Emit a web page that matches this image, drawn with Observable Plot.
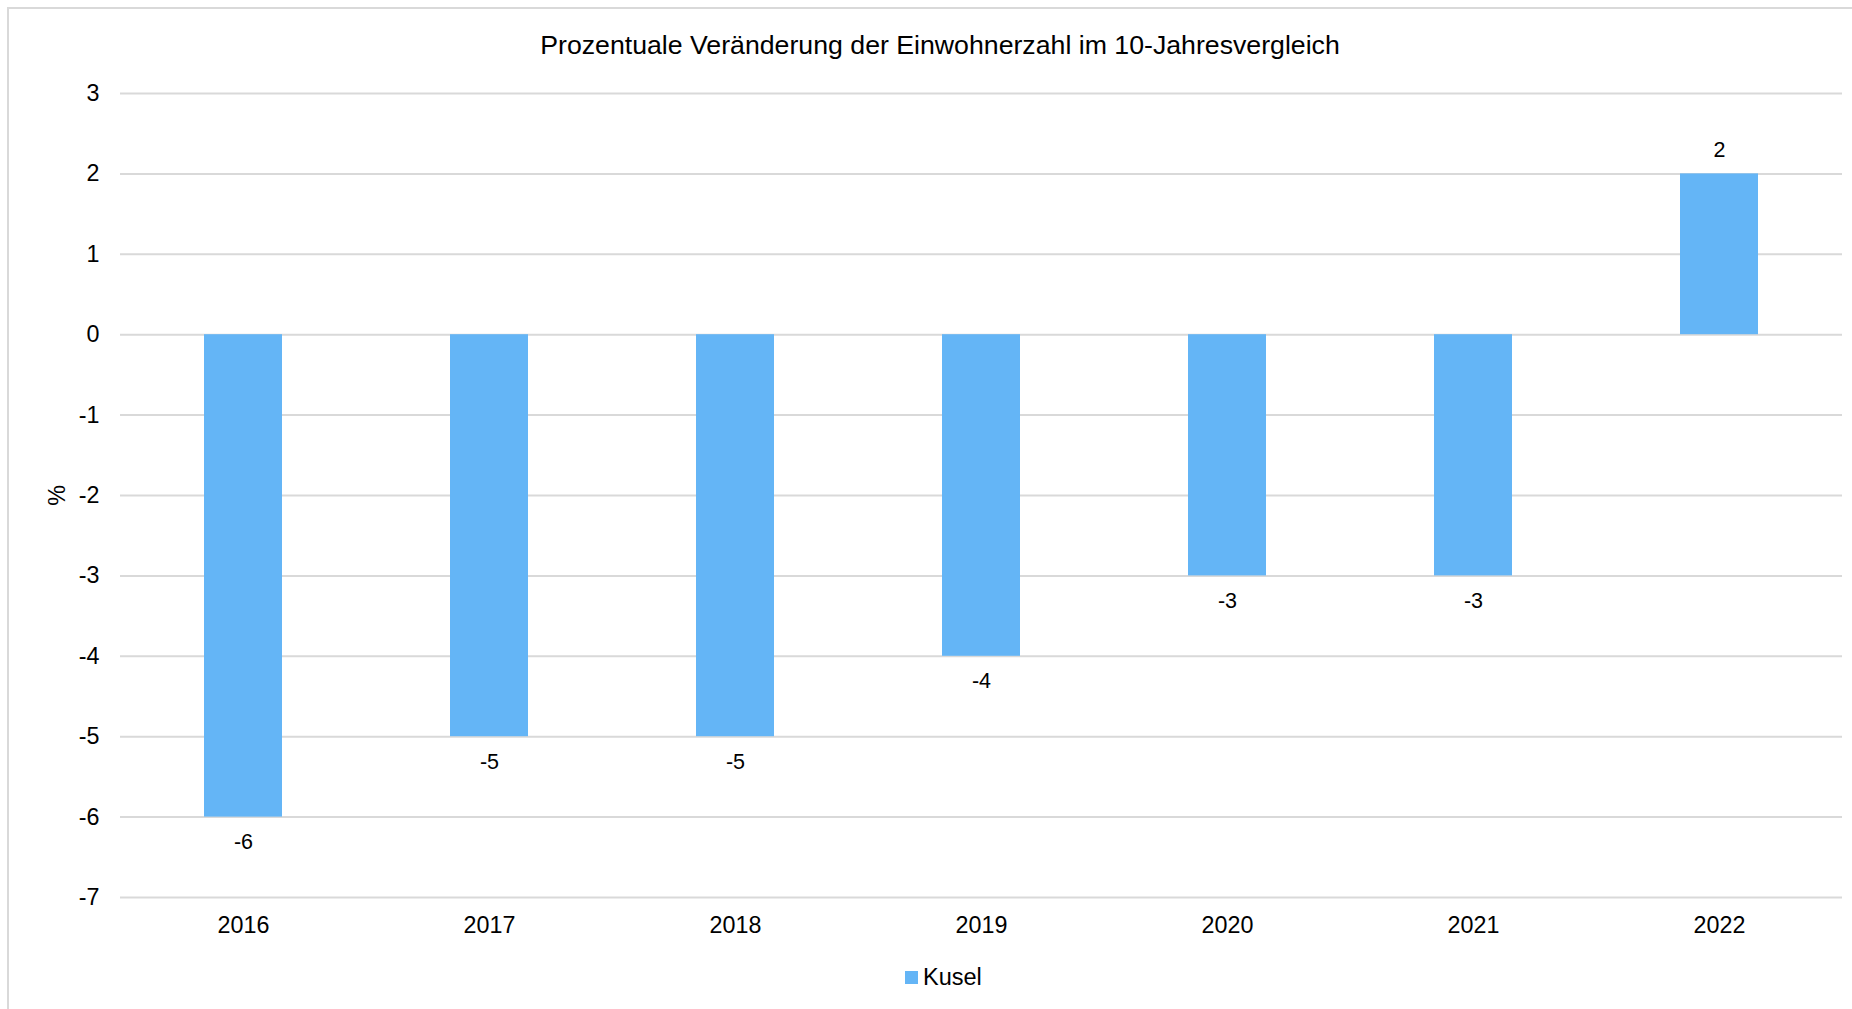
<!DOCTYPE html>
<html>
<head>
<meta charset="utf-8">
<script src="https://cdn.jsdelivr.net/npm/d3@7"></script>
<script src="https://cdn.jsdelivr.net/npm/@observablehq/plot@0.6"></script>
<style>
  html, body { margin: 0; padding: 0; background: #fff; overflow: hidden; }
  body { width: 1852px; height: 1009px; position: relative; font-family: "Liberation Sans", Arial, sans-serif; color: #000; }
  #frame { position: absolute; left: 7px; top: 7px; width: 2000px; height: 1100px; border-left: 2px solid #d9d9d9; border-top: 2px solid #d9d9d9; box-sizing: border-box; }
  #title { position: absolute; left: 0; top: 32px; width: 1880px; text-align: center; font-size: 26.7px; line-height: 1; }
  #chart { position: absolute; left: 0; top: 70px; }
  #legend { position: absolute; left: 905px; top: 962px; display: flex; align-items: center; font-size: 23.5px; line-height: 30px; }
  #legend .sw { width: 13px; height: 13px; margin-right: 5px; }
</style>
</head>
<body>
<div id="frame"></div>
<div id="title"></div>
<div id="chart"></div>
<div id="legend"></div>
<script>
const titleText = "Prozentuale Veränderung der Einwohnerzahl im 10-Jahresvergleich";
const seriesName = "Kusel";
const years = ["2016", "2017", "2018", "2019", "2020", "2021", "2022"];
const values = [-6, -5, -5, -4, -3, -3, 2];
const yTicks = [-7, -6, -5, -4, -3, -2, -1, 0, 1, 2, 3];
const yLabel = "%";
const barColor = "#64b5f6";

const data = years.map((year, i) => ({year, value: values[i]}));

document.getElementById("title").textContent = titleText;

const chart = Plot.plot({
  width: 1852,
  height: 878,
  marginLeft: 120,
  marginRight: 10,
  marginTop: 23,
  marginBottom: 51,
  style: {background: "transparent", fontFamily: "'Liberation Sans', Arial, sans-serif", color: "#000", overflow: "visible"},
  x: {domain: years, paddingInner: 0.683, paddingOuter: 0.3415, label: null},
  y: {domain: [-7, 3], label: null},
  marks: [
    Plot.gridY(yTicks, {stroke: "#d9d9d9", strokeOpacity: 1, strokeWidth: 2}),
    Plot.barY(data, {x: "year", y: "value", fill: barColor}),
    Plot.text(data.filter(d => d.value < 0), {x: "year", y: "value", text: d => String(d.value), dy: 25, fontSize: 21.5, fill: "#000"}),
    Plot.text(data.filter(d => d.value >= 0), {x: "year", y: "value", text: d => String(d.value), dy: -24, fontSize: 21.5, fill: "#000"}),
    Plot.axisY(yTicks, {tickSize: 0, tickPadding: 21, tickFormat: d => String(d), fontSize: 23.3, label: yLabel, labelAnchor: "center", labelOffset: 72, labelArrow: "none"}),
    Plot.axisX({tickSize: 0, tickPadding: 19, fontSize: 23.3, label: null})
  ]
});
document.getElementById("chart").appendChild(chart);

const legend = document.getElementById("legend");
const sw = document.createElement("div");
sw.className = "sw";
sw.style.background = barColor;
const lt = document.createElement("span");
lt.textContent = seriesName;
legend.appendChild(sw);
legend.appendChild(lt);
</script>
</body>
</html>
